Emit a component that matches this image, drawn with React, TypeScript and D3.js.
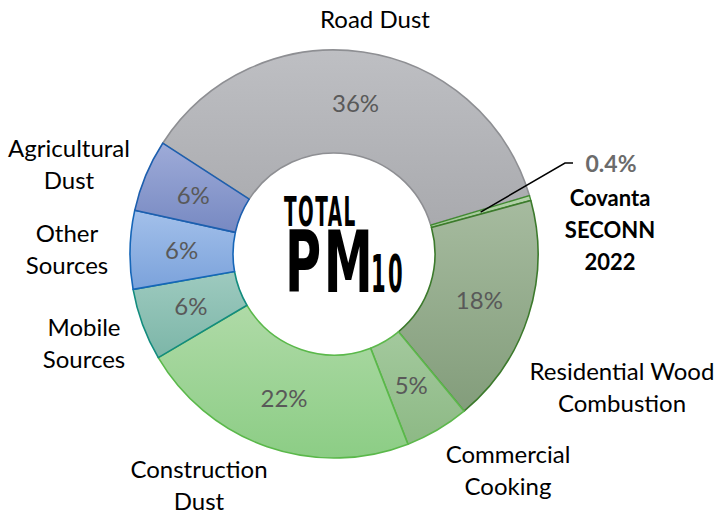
import React from "react";
import * as d3 from "d3";

const categories = [
  "Road Dust",
  "Covanta SECONN 2022",
  "Residential Wood Combustion",
  "Commercial Cooking",
  "Construction Dust",
  "Mobile Sources",
  "Other Sources",
  "Agricultural Dust",
];
const values = [36.2, 0.4, 18.2, 5.1, 22.4, 5.7, 6.2, 5.7];
const valueLabels = ["36%", "0.4%", "18%", "5%", "22%", "6%", "6%", "6%"];

// styles (not data)
const fillTop = ["#bebfc3", "#b5d3ab", "#a6bb9f", "#a3c99d", "#afdaa7", "#9ecabf", "#a3c0ea", "#9eabd8"];
const fillBottom = ["#a9aaae", "#9cc491", "#839d7b", "#8db985", "#8ccd85", "#7cb6a8", "#7ba2db", "#7789c2"];
const strokes = ["#8e8f93", "#3e8a2e", "#3c7a2c", "#5db84c", "#5ab84a", "#138c7e", "#1666b8", "#1d5fae"];

// outside category label layout
const outsideLabels: { lines: string[]; x: number; y: number }[] = [
  { lines: ["Road Dust"], x: 375, y: 28 },
  { lines: ["Residential Wood", "Combustion"], x: 622, y: 380 },
  { lines: ["Commercial", "Cooking"], x: 508, y: 463 },
  { lines: ["Construction", "Dust"], x: 199, y: 478 },
  { lines: ["Mobile", "Sources"], x: 84, y: 336 },
  { lines: ["Other", "Sources"], x: 67, y: 242 },
  { lines: ["Agricultural", "Dust"], x: 69, y: 157 },
];

// center title words
const titleWords: { text: string; x: number; y: number; size: number; sx: number; ls: number }[] = [
  { text: "TOTAL", x: 284, y: 226, size: 41, sx: 0.5, ls: 3 },
  { text: "PM", x: 285, y: 292, size: 85, sx: 0.645, ls: 4 },
  { text: "10", x: 371, y: 292, size: 51, sx: 0.46, ls: 5 },
];

const W = 717;
const H = 514;
const cx = 334;
const cy = 254;
const outerR = 204;
const innerR = 101;
const startDeg = -57.1;

export default function App() {
  const start = (startDeg * Math.PI) / 180;
  const pie = d3
    .pie<number>()
    .sort(null)
    .value((d) => d)
    .startAngle(start)
    .endAngle(start + 2 * Math.PI);
  const arcs = pie(values);
  const arc = d3.arc<d3.PieArcDatum<number>>().innerRadius(innerR).outerRadius(outerR);
  const font = "Lato, 'Open Sans', sans-serif";

  const cov = arc.centroid(arcs[1]);
  const leader = d3.line()([
    [cov[0] + cx, cov[1] + cy],
    [565, 163],
    [573, 163],
  ]);

  return (
    <svg width={W} height={H} style={{ position: "absolute", left: 0, top: 0 }}>
      <defs>
        {categories.map((c, i) => (
          <linearGradient key={c} id={`g${i}`} x1="0" y1="0" x2="0" y2="1">
            <stop offset="0" stopColor={fillTop[i]} />
            <stop offset="1" stopColor={fillBottom[i]} />
          </linearGradient>
        ))}
      </defs>
      <rect width={W} height={H} fill="#ffffff" />
      <g transform={`translate(${cx},${cy})`}>
        {arcs.map((a, i) => (
          <path
            key={categories[i]}
            d={arc(a) || ""}
            fill={`url(#g${i})`}
            stroke={strokes[i]}
            strokeWidth={i === 1 ? 1.3 : 1.6}
            strokeLinejoin="round"
          />
        ))}
        {arcs.map((a, i) => {
          if (i === 1) return null;
          const [x, y] = arc.centroid(a);
          return (
            <text
              key={"v" + i}
              x={x}
              y={y}
              dy="0.36em"
              textAnchor="middle"
              fontFamily={font}
              fontSize={24}
              fill="#595959"
            >
              {valueLabels[i]}
            </text>
          );
        })}
      </g>
      <path d={leader || ""} fill="none" stroke="#000" strokeWidth={1.5} />
      <text x={611} y={172} textAnchor="middle" fontFamily={font} fontWeight="bold" fontSize={23} fill="#6b6b6b">
        {valueLabels[1]}
      </text>
      {["Covanta", "SECONN", "2022"].map((t, k) => (
        <text
          key={t}
          x={610}
          y={206 + k * 32}
          textAnchor="middle"
          fontFamily={font}
          fontWeight="bold"
          fontSize={22}
          fill="#000"
        >
          {t}
        </text>
      ))}
      {outsideLabels.map((l) =>
        l.lines.map((t, k) => (
          <text
            key={l.lines.join() + k}
            x={l.x}
            y={l.y + k * 32}
            textAnchor="middle"
            fontFamily={font}
            fontSize={24}
            fill="#000"
          >
            {t}
          </text>
        ))
      )}
      <g fontFamily="'DejaVu Sans Condensed', 'DejaVu Sans', sans-serif" fontWeight="bold" fill="#000">
        {titleWords.map((w) => (
          <text
            key={w.text}
            transform={`translate(${w.x},${w.y}) scale(${w.sx},1)`}
            fontSize={w.size}
            letterSpacing={w.ls}
          >
            {w.text}
          </text>
        ))}
      </g>
    </svg>
  );
}
